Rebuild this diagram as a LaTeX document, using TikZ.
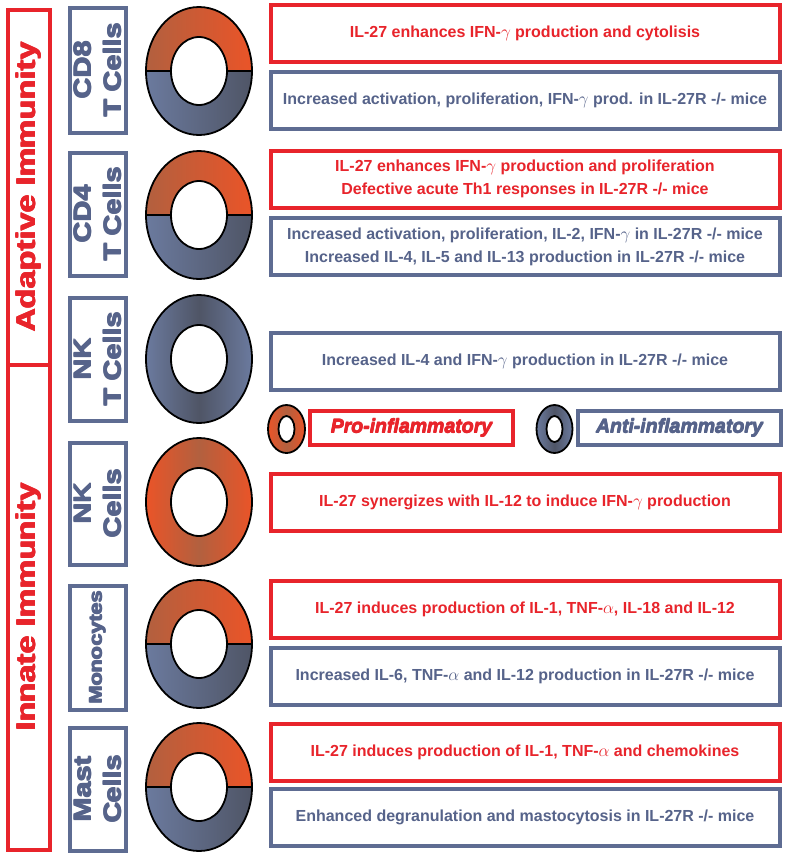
\documentclass[tikz,border=0pt]{standalone}
\usepackage{fontspec}
\setmainfont{Liberation Sans}
\usepackage{graphicx}
\definecolor{rd}{HTML}{E8242B}
\definecolor{bg}{HTML}{5E6C92}
\definecolor{bgt}{HTML}{56638A}
\definecolor{orL}{HTML}{B2603F}
\definecolor{orR}{HTML}{EA5428}
\definecolor{blL}{HTML}{6B7A9E}
\definecolor{blR}{HTML}{4F5566}
\newcommand{\thk}[2][0.8pt]{\makebox[0pt][l]{#2}\makebox[0pt][l]{\raisebox{#1}{#2}}\makebox[0pt][l]{\hspace{#1}\raisebox{#1}{#2}}\hspace{#1}#2}
\newcommand{\sx}[1]{\scalebox{1.2}[1]{\thk{#1}}}
\newcommand{\splitring}[2]{%
  \begin{scope}
    \clip (#1-60,#2-70) rectangle (#1+60,#2);
    \shade[even odd rule, left color=orL, right color=orR] (#1,#2) ellipse [x radius=53, y radius=64] (#1,#2) ellipse [x radius=28, y radius=34];
  \end{scope}
  \begin{scope}
    \clip (#1-60,#2) rectangle (#1+60,#2+70);
    \shade[even odd rule, left color=blL, right color=blR] (#1,#2) ellipse [x radius=53, y radius=64] (#1,#2) ellipse [x radius=28, y radius=34];
  \end{scope}
  \draw[ringline] (#1,#2) ellipse [x radius=53, y radius=64] (#1,#2) ellipse [x radius=28, y radius=34];
  \draw[ringline, line width=2.2pt] (#1-53,#2) -- (#1-28,#2) (#1+28,#2) -- (#1+53,#2);
}
\tikzset{
  ringline/.style={draw=black, line width=1.8pt},
  txt/.style={font=\fontsize{16}{23}\selectfont\bfseries, align=center, inner sep=0pt},
  redbox/.style={txt, draw=rd, line width=4pt, text=rd, minimum width=509pt, minimum height=57pt},
  bluebox/.style={txt, draw=bg, line width=4pt, text=bgt, minimum width=509pt, minimum height=57pt},
  cellbox/.style={draw=bg, line width=4pt, text=bgt, font=\fontsize{24}{30}\selectfont\bfseries, align=center, rotate=90, inner sep=0pt, minimum height=56pt},
  immbox/.style={draw=rd, line width=4pt, text=rd, font=\fontsize{27}{32}\selectfont\bfseries, align=center, rotate=90, inner sep=0pt, minimum height=42pt},
  legbox/.style={line width=4pt, font=\fontsize{19.5}{23}\selectfont\bfseries\itshape, inner sep=0pt, minimum width=203pt, minimum height=34pt},
  orshade/.style={left color=orR, right color=orR, middle color=orL},
  blshade/.style={left color=blL, right color=blL, middle color=blR},
}
\begin{document}
\begin{tikzpicture}[x=1pt, y=-1pt]
\useasboundingbox (0,0) rectangle (792,855);
\fill[white] (0,0) rectangle (792,855);

% immunity boxes
\node[immbox, minimum width=355.5pt] (adapt) at (28.5,187.25) {\sx{Adaptive Immunity}};
\node[immbox, minimum width=484.5pt] (innate) at (28.5,607.25) {\sx{Innate Immunity}};

% cell boxes
\node[cellbox, minimum width=125pt] (cd8) at (97.5,70) {\sx{CD8}\\\sx{T Cells}};
\node[cellbox, minimum width=123pt] (cd4) at (97.5,214) {\sx{CD4}\\\sx{T Cells}};
\node[cellbox, minimum width=123pt] (nkt) at (97.5,359) {\sx{NK}\\\sx{T Cells}};
\node[cellbox, minimum width=122pt] (nk) at (97.5,503.5) {\sx{NK}\\\sx{Cells}};
\node[cellbox, minimum width=124pt, font=\fontsize{18}{22}\selectfont\bfseries] (mono) at (97.5,647.5) {\sx{Monocytes}};
\node[cellbox, minimum width=123pt] (mast) at (97.5,789) {\sx{Mast}\\\sx{Cells}};

% rings
\splitring{199}{71}
\splitring{199}{215}
\shade[even odd rule, blshade] (199,359) ellipse [x radius=53, y radius=64] (199,359) ellipse [x radius=28, y radius=34];
\draw[ringline] (199,359) ellipse [x radius=53, y radius=64] (199,359) ellipse [x radius=28, y radius=34];
\shade[even odd rule, orshade] (199,502) ellipse [x radius=53, y radius=64] (199,502) ellipse [x radius=28, y radius=34];
\draw[ringline] (199,502) ellipse [x radius=53, y radius=64] (199,502) ellipse [x radius=28, y radius=34];
\splitring{199}{644}
\splitring{199}{787}

% right boxes
\node[redbox] (cd8p) at (525,33) {IL-27 enhances IFN-$\gamma$ production and cytolisis};
\node[bluebox] (cd8a) at (525,100) {Increased activation, proliferation, IFN-$\gamma$ prod. in IL-27R -/- mice};
\node[redbox] (cd4p) at (525,179) {IL-27 enhances IFN-$\gamma$ production and proliferation\\Defective acute Th1 responses in IL-27R -/- mice};
\node[bluebox] (cd4a) at (525,246.5) {Increased activation, proliferation, IL-2, IFN-$\gamma$ in IL-27R -/- mice\\Increased IL-4, IL-5 and IL-13 production in IL-27R -/- mice};
\node[bluebox] (nkta) at (525,361) {Increased IL-4 and IFN-$\gamma$ production in IL-27R -/- mice};
\node[redbox] (nkp) at (525,502) {IL-27 synergizes with IL-12 to induce IFN-$\gamma$ production};
\node[redbox] (monop) at (525,609) {IL-27 induces production of IL-1, TNF-$\alpha$, IL-18 and IL-12};
\node[bluebox] (monoa) at (525,676.5) {Increased IL-6, TNF-$\alpha$ and IL-12 production in IL-27R -/- mice};
\node[redbox] (mastp) at (525,752) {IL-27 induces production of IL-1, TNF-$\alpha$ and chemokines};
\node[bluebox] (masta) at (525,817.5) {Enhanced degranulation and mastocytosis in IL-27R -/- mice};

% legend
\shade[even odd rule, orshade] (286.5,429) ellipse [x radius=18.5, y radius=24] (286.5,429) ellipse [x radius=8, y radius=13];
\draw[ringline, line width=1.8pt] (286.5,429) ellipse [x radius=18.5, y radius=24] (286.5,429) ellipse [x radius=8, y radius=13];
\node[legbox, draw=rd, text=rd] (pro) at (411.5,428) {\thk[0.5pt]{Pro-inflammatory}};
\shade[even odd rule, blshade] (554.5,429) ellipse [x radius=18, y radius=24] (554.5,429) ellipse [x radius=8, y radius=13];
\draw[ringline, line width=1.8pt] (554.5,429) ellipse [x radius=18, y radius=24] (554.5,429) ellipse [x radius=8, y radius=13];
\node[legbox, draw=bg, text=bgt] (anti) at (679.5,428) {\thk[0.5pt]{Anti-inflammatory}};
\end{tikzpicture}
\end{document}
